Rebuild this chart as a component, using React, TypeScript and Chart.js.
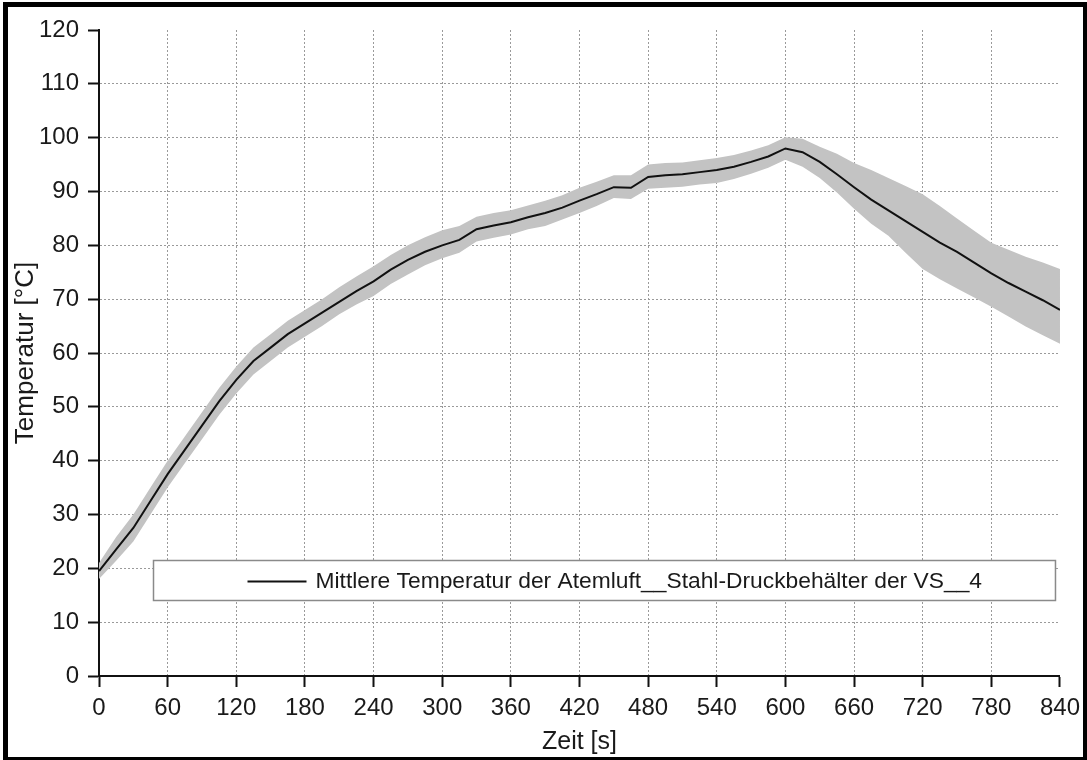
import React, { useEffect, useRef } from "react";
import { Chart, registerables } from "chart.js";

Chart.register(...registerables);

// ---------- data ----------
const timeSec = [
  0, 15, 30, 45, 60, 75, 90, 105, 120, 135, 150, 165, 180, 195, 210, 225, 240, 255, 270, 285,
  300, 315, 330, 345, 360, 375, 390, 405, 420, 435, 450, 465, 480, 495, 510, 525, 540, 555,
  570, 585, 600, 615, 630, 645, 660, 675, 690, 705, 720, 735, 750, 765, 780, 795, 810, 825, 840,
];

const meanTemp = [
  19.5, 23.5, 27.5, 32.5, 37.5, 42, 46.5, 51, 55, 58.5, 61, 63.5, 65.5, 67.5, 69.5, 71.5, 73.3,
  75.5, 77.3, 78.8, 80, 81, 83, 83.7, 84.3, 85.2, 86, 87, 88.3, 89.5, 90.8, 90.7, 92.7, 93, 93.2,
  93.6, 94, 94.6, 95.5, 96.5, 98, 97.3, 95.5, 93.2, 90.8, 88.5, 86.5, 84.5, 82.5, 80.5, 78.8,
  76.8, 74.8, 73, 71.4, 69.8, 68,
];

const upperTemp = [
  21, 25.8, 30, 35, 40, 44.5, 49, 53.5, 57.5, 61, 63.5, 66, 68, 70, 72.2, 74.2, 76.1, 78.2, 80,
  81.5, 82.8, 83.6, 85.3, 86, 86.5, 87.4, 88.3, 89.3, 90.7, 91.8, 93, 93, 95, 95.3, 95.4, 95.8,
  96.2, 96.8, 97.6, 98.6, 100.1, 99.8, 98.3, 97, 95.3, 94, 92.5, 91, 89.5, 87.3, 85, 82.7, 80.5,
  79.2, 77.9, 76.8, 75.6,
];

const lowerTemp = [
  18, 21.4, 25, 30, 35, 39.5, 44, 48.5, 52.5, 56, 58.5, 61, 63, 65, 67.2, 69, 70.6, 72.8, 74.6,
  76.3, 77.6, 78.6, 80.7, 81.4, 82, 83, 83.6, 84.8, 86, 87.3, 88.8, 88.6, 90.5, 90.7, 90.9, 91.3,
  91.6, 92.3, 93.3, 94.4, 95.9, 94.6, 92.5, 89.8, 86.8, 84, 81.8, 78.6, 75.6, 73.7, 72, 70.3,
  68.6, 66.8, 64.9, 63.3, 61.7,
];

const xMin = 0;
const xMax = 840;
const xStep = 60;
const yMin = 0;
const yMax = 120;
const yStep = 10;

const legendLabel = "Mittlere Temperatur der Atemluft__Stahl-Druckbehälter der VS__4";
const xTitle = "Zeit [s]";
const yTitle = "Temperatur [°C]";

const FONT = "'Liberation Sans', Arial, Helvetica, sans-serif";

const toPoints = (vals: number[]) => timeSec.map((t, i) => ({ x: t, y: vals[i] }));

const legendPlugin = {
  id: "boxLegend",
  afterDatasetsDraw(chart: any) {
    const { ctx, chartArea } = chart;
    const left = chartArea.left + 54.5;
    const right = chartArea.right - 4.5;
    const top = chartArea.top + 530.5;
    const h = 40;
    ctx.save();
    ctx.fillStyle = "#ffffff";
    ctx.strokeStyle = "#8a8a8a";
    ctx.lineWidth = 1.5;
    ctx.fillRect(left, top, right - left, h);
    ctx.strokeRect(left, top, right - left, h);
    const cy = top + h / 2 + 1;
    ctx.strokeStyle = "#111111";
    ctx.lineWidth = 2;
    ctx.beginPath();
    ctx.moveTo(left + 94, cy);
    ctx.lineTo(left + 153, cy);
    ctx.stroke();
    ctx.fillStyle = "#1a1a1a";
    ctx.font = `22.8px ${FONT}`;
    ctx.textBaseline = "middle";
    ctx.textAlign = "left";
    ctx.fillText(chart.data.datasets[0].label, left + 162, cy);
    ctx.restore();
  },
};

export default function App() {
  const canvasRef = useRef<HTMLCanvasElement | null>(null);

  useEffect(() => {
    if (!canvasRef.current) return;
    const gridColor = (edgeA: number, edgeB: number) => (c: any) => {
      const v = c.tick ? c.tick.value : undefined;
      return v === edgeA || v === edgeB ? "rgba(0,0,0,0)" : "#9a9a9a";
    };
    const chart = new Chart(canvasRef.current, {
      type: "line",
      data: {
        datasets: [
          {
            label: legendLabel,
            data: toPoints(meanTemp),
            borderColor: "#111111",
            borderWidth: 2,
            pointRadius: 0,
            fill: false,
            tension: 0,
            order: 0,
          },
          {
            label: "upper",
            data: toPoints(upperTemp),
            borderWidth: 0,
            borderColor: "rgba(0,0,0,0)",
            backgroundColor: "#c3c3c3",
            pointRadius: 0,
            fill: "+1",
            order: 1,
          },
          {
            label: "lower",
            data: toPoints(lowerTemp),
            borderWidth: 0,
            borderColor: "rgba(0,0,0,0)",
            backgroundColor: "#c3c3c3",
            pointRadius: 0,
            fill: false,
            order: 2,
          },
        ],
      },
      options: {
        animation: false,
        responsive: true,
        maintainAspectRatio: false,
        layout: { padding: { top: 30, right: 25, left: 0, bottom: 0 } },
        plugins: {
          legend: { display: false },
          tooltip: { enabled: false },
        },
        scales: {
          x: {
            type: "linear",
            min: xMin,
            max: xMax,
            afterFit: (s: any) => {
              s.height = 84;
            },
            ticks: {
              stepSize: xStep,
              padding: 7,
              color: "#1a1a1a",
              font: { family: FONT, size: 24 },
              maxRotation: 0,
              autoSkip: false,
            },
            grid: {
              color: gridColor(xMin, xMax),
              lineWidth: 1,
              tickColor: "#111111",
              tickWidth: 2,
              tickLength: 11,
            },
            border: { display: true, color: "#111111", width: 2, dash: [2, 2] },
            title: {
              display: true,
              text: xTitle,
              color: "#1a1a1a",
              font: { family: FONT, size: 25 },
              padding: { top: 0, bottom: 3 },
            },
          },
          y: {
            type: "linear",
            min: yMin,
            max: yMax,
            afterFit: (s: any) => {
              s.width = 99;
            },
            ticks: {
              stepSize: yStep,
              padding: 9,
              color: "#1a1a1a",
              font: { family: FONT, size: 24 },
            },
            grid: {
              color: gridColor(yMin, yMax),
              lineWidth: 1,
              tickColor: "#111111",
              tickWidth: 2,
              tickLength: 11,
            },
            border: { display: true, color: "#111111", width: 2, dash: [2, 2] },
            title: {
              display: true,
              text: yTitle,
              color: "#1a1a1a",
              font: { family: FONT, size: 26 },
              padding: { top: 10, bottom: 0 },
            },
          },
        },
      },
      plugins: [legendPlugin],
    } as any);
    return () => chart.destroy();
  }, []);

  return (
    <div style={{ position: "fixed", left: 0, top: 0, width: 1087, height: 760, background: "#fff" }}>
      <div style={{ position: "absolute", left: 0, top: 0, width: 1087, height: 760 }}>
        <canvas ref={canvasRef} />
      </div>
      <div
        style={{
          position: "absolute",
          left: 3,
          top: 2,
          width: 1084,
          height: 758,
          boxSizing: "border-box",
          borderStyle: "solid",
          borderColor: "#000",
          borderWidth: "5px 4px 3px 5px",
          pointerEvents: "none",
        }}
      />
    </div>
  );
}
